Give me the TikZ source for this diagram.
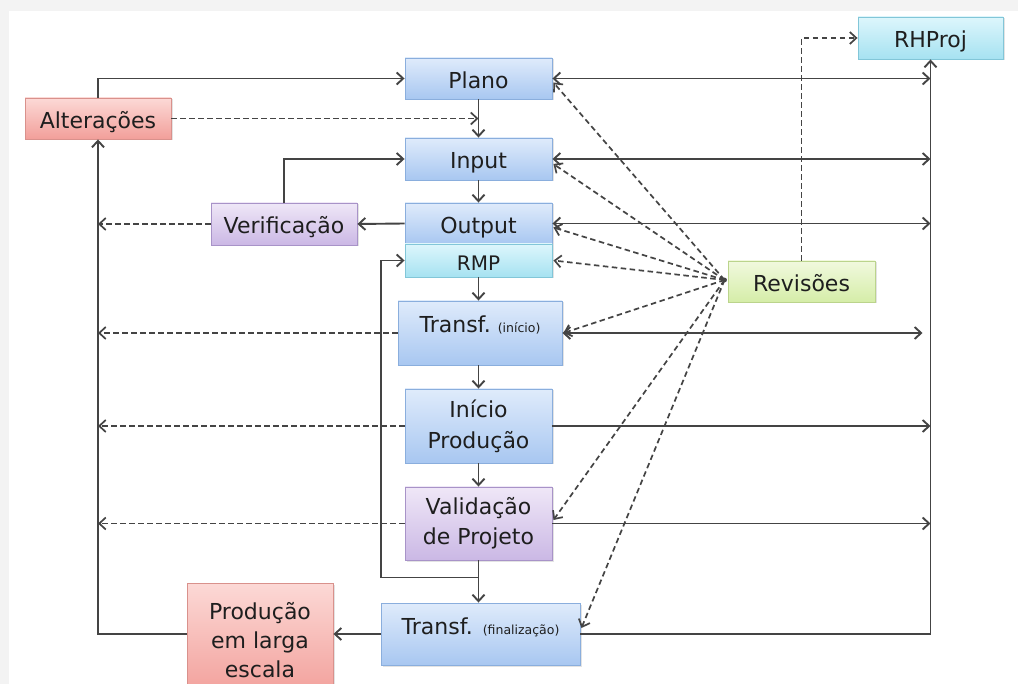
\documentclass[tikz,border=0pt]{standalone}
\usepackage{fontspec}
\setmainfont{DejaVu Sans}
\usetikzlibrary{arrows.meta,calc,shadows}
\definecolor{bggray}{HTML}{F3F3F3}
\definecolor{txt}{HTML}{1E1E1E}
\definecolor{linecol}{HTML}{444444}
\definecolor{bluetop}{HTML}{DFEBFB}
\definecolor{bluebot}{HTML}{A8C7F1}
\definecolor{bluedraw}{HTML}{8AAEDD}
\definecolor{cyantop}{HTML}{DDF6FC}
\definecolor{cyanbot}{HTML}{A6E2F1}
\definecolor{cyandraw}{HTML}{82C6D8}
\definecolor{pinktop}{HTML}{FCD9D6}
\definecolor{pinkbot}{HTML}{F29F9A}
\definecolor{pinkdraw}{HTML}{D9918C}
\definecolor{lilactop}{HTML}{EFE7F7}
\definecolor{lilacbot}{HTML}{CBB8E5}
\definecolor{lilacdraw}{HTML}{A893C8}
\definecolor{greentop}{HTML}{F1F9DE}
\definecolor{greenbot}{HTML}{D5EDA8}
\definecolor{greendraw}{HTML}{BBD48C}
\begin{document}
\begin{tikzpicture}[x=1pt,y=-1pt,
  >={Straight Barb[length=6.5pt,width=12pt]},
  boxbase/.style={line width=0.9pt, inner sep=2pt, text=txt,
    font=\fontsize{22}{30}\selectfont,
    drop shadow={opacity=0.22,shadow xshift=1.5pt,shadow yshift=-1.5pt}},
  bluebox/.style={boxbase, draw=bluedraw, top color=bluetop, bottom color=bluebot},
  cyanbox/.style={boxbase, draw=cyandraw, top color=cyantop, bottom color=cyanbot},
  pinkbox/.style={boxbase, draw=pinkdraw, top color=pinktop, bottom color=pinkbot},
  lilacbox/.style={boxbase, draw=lilacdraw, top color=lilactop, bottom color=lilacbot},
  greenbox/.style={boxbase, draw=greendraw, top color=greentop, bottom color=greenbot},
  oneline/.style={text height=20pt, text depth=0pt},
  midline/.style={text height=14pt, text depth=14pt},
  conn/.style={draw=linecol, line width=1.9pt},
  dconn/.style={conn, line width=1.7pt, dash pattern=on 5.5pt off 3.5pt}
]
\clip (0,0) rectangle (1018,684);
\fill[bggray] (0,0) rectangle (1018,684);
\fill[white] (9,11) rectangle (1018,684);

% nodes
\node[bluebox, oneline, minimum width=147pt, minimum height=41pt] (plano) at (478.5,78.5) {Plano};
\node[pinkbox, oneline, minimum width=146pt, minimum height=41pt] (alt) at (98,118.5) {Alterações};
\node[bluebox, oneline, minimum width=147pt, minimum height=42pt] (input) at (478.5,159) {Input};
\node[bluebox, oneline, minimum width=147pt, minimum height=41pt] (output) at (478.5,223.5) {Output};
\node[cyanbox, oneline, minimum width=147pt, minimum height=33pt, font=\fontsize{20}{24}\selectfont] (rmp) at (478.5,260.5) {RMP};
\node[lilacbox, oneline, minimum width=146pt, minimum height=42pt] (verif) at (284,224) {Verificação};
\node[bluebox, midline, minimum width=164pt, minimum height=64pt] (ti) at (480,333)
  {Transf.\hspace{7pt}{\fontsize{12.5}{14}\selectfont(início)}};
\node[bluebox, align=center, minimum width=147pt, minimum height=74pt,
  font=\fontsize{22}{31}\selectfont] (ip) at (478.5,426) {Início\\Produção};
\node[lilacbox, align=center, minimum width=147pt, minimum height=73pt,
  font=\fontsize{22}{30}\selectfont] (vp) at (478.5,523.5) {Validação\\de Projeto};
\node[bluebox, midline, minimum width=199pt, minimum height=62pt] (tf) at (480.5,634)
  {Transf.\hspace{10pt}{\fontsize{12.5}{14}\selectfont(finalização)}};
\node[pinkbox, align=center, minimum width=146pt, minimum height=114pt,
  font=\fontsize{22}{29}\selectfont] (prod) at (260,640) {Produção\\em larga\\escala};
\node[greenbox, oneline, minimum width=147pt, minimum height=41pt] (rev) at (801.5,281.5) {Revisões};
\node[cyanbox, oneline, minimum width=145pt, minimum height=42pt] (rh) at (930.5,38) {RHProj};

% solid connectors, main column
\draw[conn,->] (alt.north) |- (plano.west);
\draw[conn,->] (plano.south) -- (input.north);
\draw[conn,->] (verif.north) |- (input.west);
\draw[conn,->] (input.south) -- (output.north);
\draw[conn,->] (output.west) -- (verif.east);
\draw[conn,->] (rmp.south) -- (rmp.south |- ti.north);
\draw[conn,->] (ip.north |- ti.south) -- (ip.north);
\draw[conn,->] (ip.south) -- (vp.north);
\draw[conn,->] (vp.south) -- (vp.south |- tf.north);
\coordinate (lp) at ($(vp.south)+(0,17)$);
\coordinate (lx) at (381,260.5);
\draw[conn,->] (lp) -- (lp -| lx) |- (rmp.west);
\draw[conn,->] (tf.west) -- (tf.west -| prod.east);
\draw[conn,->] (prod.west |- tf.west) -| (alt.south);

% right side
\draw[conn,<->] (plano.east) -- (plano.east -| rh.south);
\draw[conn,<->] (input.east) -- (input.east -| rh.south);
\draw[conn,<->] (output.east) -- (output.east -| rh.south);
\draw[conn,<->,shorten >=8pt] (ti.east) -- (ti.east -| rh.south);
\draw[conn,->] (ip.east) -- (ip.east -| rh.south);
\draw[conn,->] (vp.east) -- (vp.east -| rh.south);
\draw[conn,->] (tf.east) -| (rh.south);

% dashed connectors
\draw[dconn,->] (alt.east) -- (alt.east -| plano.south);
\draw[dconn,->] (verif.west) -- (verif.west -| alt.south);
\draw[dconn,->] (ti.west) -- (ti.west -| alt.south);
\draw[dconn,->] (ip.west) -- (ip.west -| alt.south);
\draw[dconn,->] (vp.west) -- (vp.west -| alt.south);
\draw[dconn,->] (rev.north) |- (rh.west);
\coordinate (r0) at ($(rev.west)+(-3,-1.5)$);
\foreach \t/\dy in {plano/4, input/5, output/4, rmp/0, ti/0, vp/-3.5, tf/-6}
  \draw[dconn,->] (r0) -- ($(\t.east)+(1,\dy)$);
\fill[linecol] (r0) circle (2.4pt);
\end{tikzpicture}
\end{document}
